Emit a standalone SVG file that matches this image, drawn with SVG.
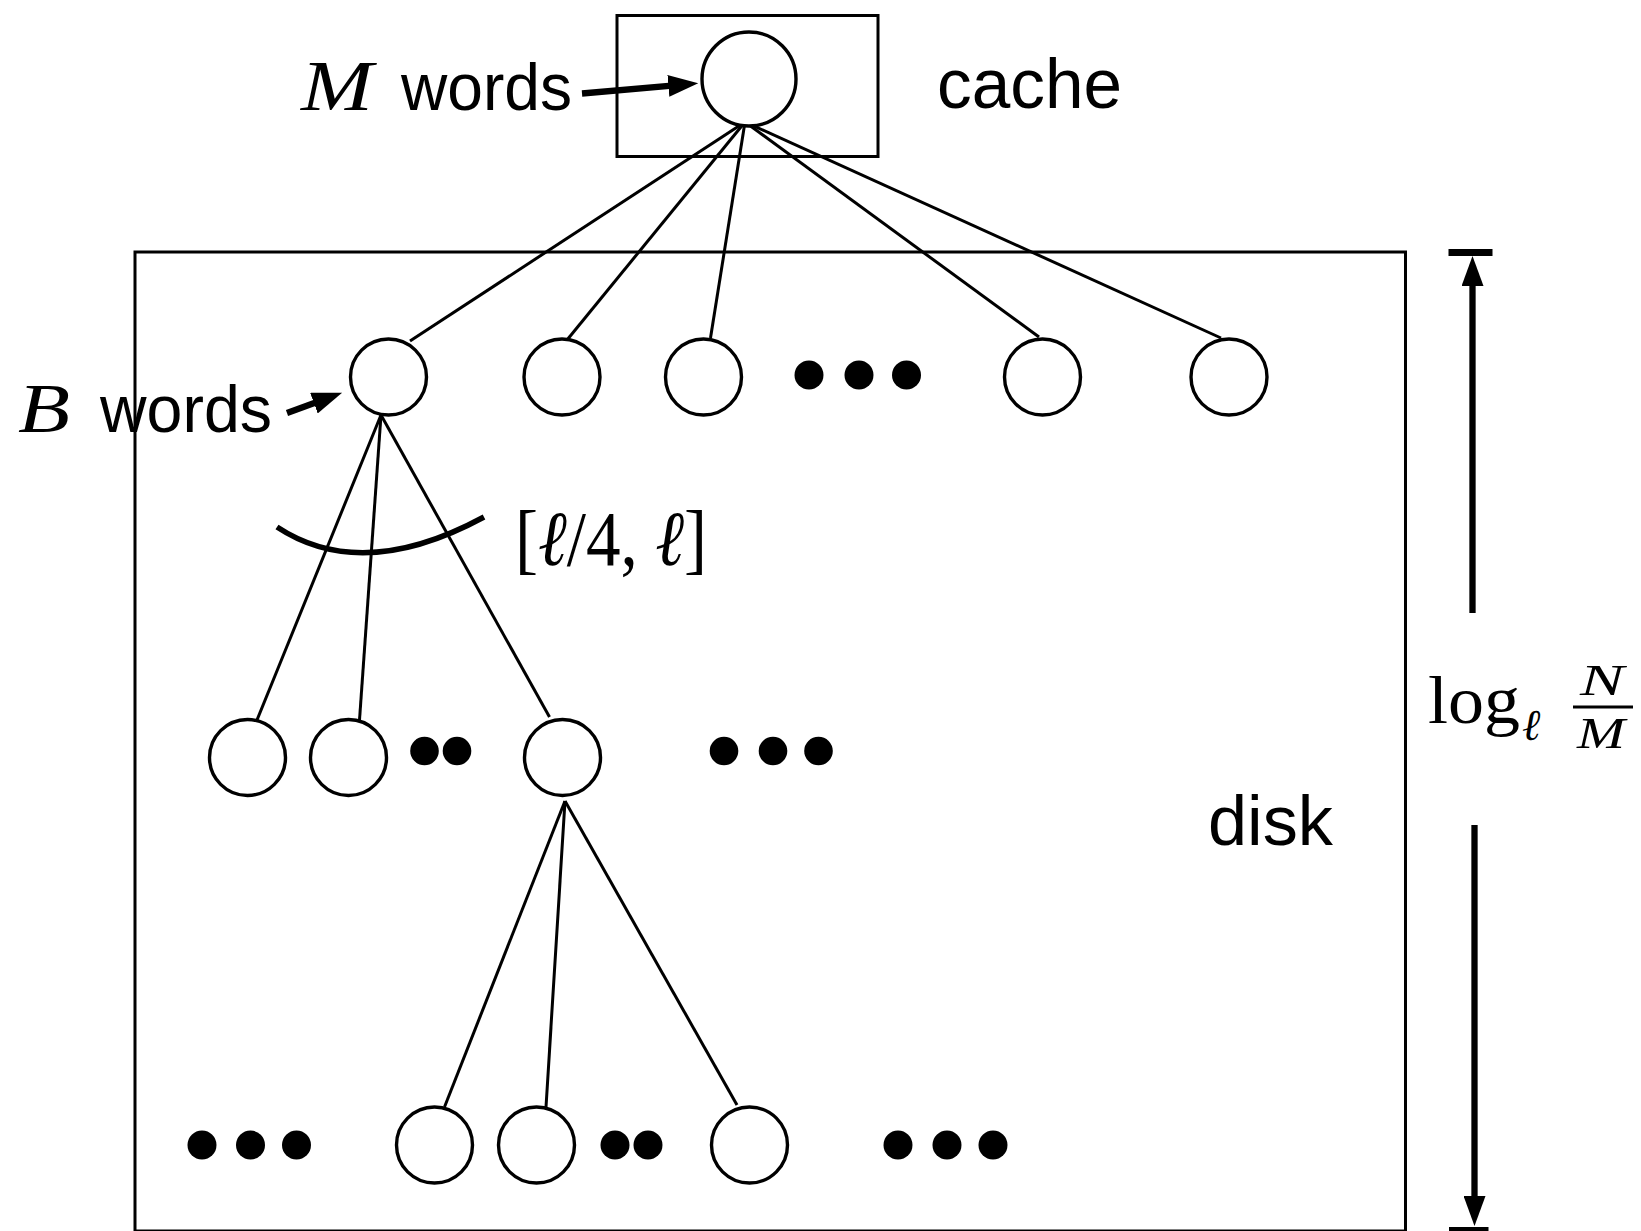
<svg xmlns="http://www.w3.org/2000/svg" width="1641" height="1231" viewBox="0 0 1641 1231">
  <style>
    .box { fill: none; stroke: #000; stroke-width: 3; }
    .node { fill: #fff; stroke: #000; stroke-width: 3.4; }
    .dot { fill: #000; }
    .edge { stroke: #000; stroke-width: 3; fill: none; }
    .thick { stroke: #000; stroke-width: 6.3; fill: none; }
    .sans { font-family: "Liberation Sans", Arial, sans-serif; fill: #000; }
    .serif { font-family: "Liberation Serif", "DejaVu Serif", serif; fill: #000; }
    .it { font-style: italic; }
  </style>
  <defs>
    <marker id="head" viewBox="0 0 30 22" refX="15" refY="11" markerWidth="30" markerHeight="22" markerUnits="userSpaceOnUse" orient="auto">
      <path d="M0,0 L30,11 L0,22 z" fill="#000"/>
    </marker>
  </defs>

  <!-- memory boxes -->
  <rect id="cache-box" class="box" x="617" y="15.5" width="261" height="141"/>
  <rect id="disk-box" class="box" x="135" y="252" width="1270.5" height="979"/>

  <!-- tree edges -->
  <g id="edges">
    <line class="edge" x1="745" y1="122" x2="410" y2="341"/>
    <line class="edge" x1="745" y1="122" x2="567" y2="340"/>
    <line class="edge" x1="745" y1="122" x2="710.5" y2="338"/>
    <line class="edge" x1="745" y1="122" x2="1039" y2="337"/>
    <line class="edge" x1="745" y1="122" x2="1221" y2="338"/>
    <line class="edge" x1="381" y1="415" x2="257" y2="720"/>
    <line class="edge" x1="381" y1="415" x2="359.5" y2="720"/>
    <line class="edge" x1="381" y1="415" x2="549.5" y2="717"/>
    <line class="edge" x1="565" y1="801" x2="444.5" y2="1107"/>
    <line class="edge" x1="565" y1="801" x2="546" y2="1107"/>
    <line class="edge" x1="565" y1="801" x2="737" y2="1105"/>
  </g>

  <!-- root block in cache -->
  <g id="root"><circle class="node" cx="749" cy="79" r="47"/></g>

  <!-- first level -->
  <g id="n1a"><circle class="node" cx="388.5" cy="377" r="38"/></g>
  <g id="n1b"><circle class="node" cx="562" cy="377" r="38"/></g>
  <g id="n1c"><circle class="node" cx="703.5" cy="377" r="38"/></g>
  <g id="n1dots">
    <circle class="dot" cx="809" cy="375" r="14.5"/>
    <circle class="dot" cx="859" cy="375" r="14.5"/>
    <circle class="dot" cx="906.5" cy="375" r="14.5"/>
  </g>
  <g id="n1d"><circle class="node" cx="1042.5" cy="377" r="38"/></g>
  <g id="n1e"><circle class="node" cx="1229" cy="377" r="38"/></g>

  <!-- second level -->
  <g id="n2a"><circle class="node" cx="247.5" cy="757.5" r="38"/></g>
  <g id="n2b"><circle class="node" cx="348.5" cy="757.5" r="38"/></g>
  <g id="n2dots">
    <circle class="dot" cx="424.5" cy="751" r="14.3"/>
    <circle class="dot" cx="457" cy="751" r="14.3"/>
  </g>
  <g id="n2c"><circle class="node" cx="562.5" cy="757.5" r="38"/></g>
  <g id="n2dots2">
    <circle class="dot" cx="724" cy="751" r="14.3"/>
    <circle class="dot" cx="773" cy="751" r="14.3"/>
    <circle class="dot" cx="818.5" cy="751" r="14.3"/>
  </g>

  <!-- third level -->
  <g id="n3dots">
    <circle class="dot" cx="202" cy="1145" r="14.5"/>
    <circle class="dot" cx="250.5" cy="1145" r="14.5"/>
    <circle class="dot" cx="296.5" cy="1145" r="14.5"/>
  </g>
  <g id="n3a"><circle class="node" cx="434.5" cy="1145" r="38"/></g>
  <g id="n3b"><circle class="node" cx="536.5" cy="1145" r="38"/></g>
  <g id="n3dots2">
    <circle class="dot" cx="615" cy="1145" r="14.5"/>
    <circle class="dot" cx="648" cy="1145" r="14.5"/>
  </g>
  <g id="n3c"><circle class="node" cx="749.5" cy="1145" r="38"/></g>
  <g id="n3dots3">
    <circle class="dot" cx="898" cy="1145" r="14.5"/>
    <circle class="dot" cx="947" cy="1145" r="14.5"/>
    <circle class="dot" cx="993" cy="1145" r="14.5"/>
  </g>

  <!-- fan-out range mark -->
  <g id="fanout">
    <path d="M277,527 Q362,583 484,517" fill="none" stroke="#000" stroke-width="5.5"/>
    <text class="serif" x="515" y="565" font-size="78" textLength="192" lengthAdjust="spacingAndGlyphs">[<tspan class="it">ℓ</tspan>/4, <tspan class="it">ℓ</tspan>]</text>
  </g>

  <!-- labels -->
  <g id="m-words">
    <text class="serif it" x="301" y="110" font-size="72" textLength="72" lengthAdjust="spacingAndGlyphs">M</text>
    <text class="sans" x="401" y="110" font-size="66" textLength="171" lengthAdjust="spacingAndGlyphs">words</text>
    <line class="thick" x1="582" y1="93.5" x2="683.3" y2="84.6" marker-end="url(#head)"/>
  </g>
  <g id="b-words">
    <text class="serif it" x="18" y="432" font-size="70" textLength="52" lengthAdjust="spacingAndGlyphs">B</text>
    <text class="sans" x="100" y="432" font-size="66" textLength="172" lengthAdjust="spacingAndGlyphs">words</text>
    <line class="thick" x1="287" y1="413" x2="328" y2="398" marker-end="url(#head)"/>
  </g>
  <text id="cache-label" class="sans" x="937" y="108" font-size="70" textLength="185" lengthAdjust="spacingAndGlyphs">cache</text>
  <text id="disk-label" class="sans" x="1208" y="845" font-size="70" textLength="125" lengthAdjust="spacingAndGlyphs">disk</text>

  <!-- height measure -->
  <g id="height">
    <rect x="1448.5" y="249" width="44" height="7" fill="#000"/>
    <line class="thick" x1="1472.5" y1="613" x2="1472.5" y2="271" marker-end="url(#head)"/>
    <line class="thick" x1="1474.5" y1="825" x2="1474.5" y2="1211" marker-end="url(#head)"/>
    <rect x="1449" y="1227" width="39.5" height="7" fill="#000"/>
    <text class="serif" x="1428" y="723" font-size="68" textLength="92" lengthAdjust="spacingAndGlyphs">log</text>
    <text class="serif it" x="1522" y="740" font-size="44">ℓ</text>
    <text class="serif it" x="1580" y="695" font-size="44" textLength="44" lengthAdjust="spacingAndGlyphs">N</text>
    <line x1="1573" y1="707" x2="1633" y2="707" stroke="#000" stroke-width="3"/>
    <text class="serif it" x="1577" y="748" font-size="44" textLength="48" lengthAdjust="spacingAndGlyphs">M</text>
  </g>
</svg>
